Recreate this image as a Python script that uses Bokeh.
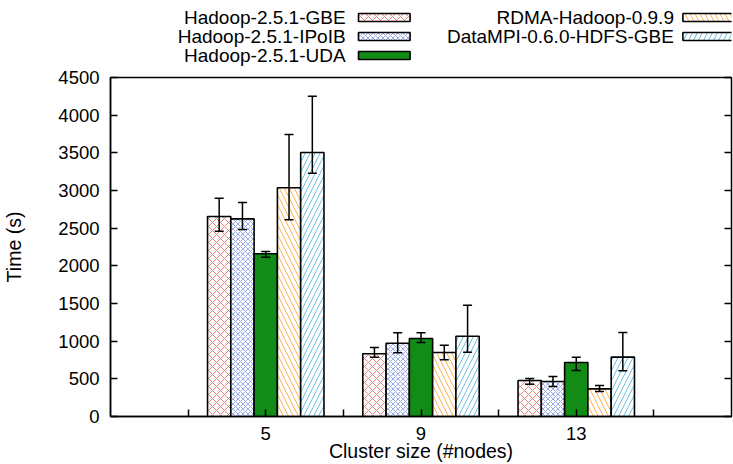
from bokeh.plotting import figure
from bokeh.layouts import column
from bokeh.models import (Whisker, ColumnDataSource, LinearAxis, FixedTicker, TeeHead, Range1d)
from bokeh.core.properties import value
from bokeh.embed import file_html
from bokeh.resources import INLINE

# ---------------- data ----------------
clusters = [5, 9, 13]
cluster_labels = ["5", "9", "13"]
series_names = ["Hadoop-2.5.1-GBE", "Hadoop-2.5.1-IPoIB", "Hadoop-2.5.1-UDA",
                "RDMA-Hadoop-0.9.9", "DataMPI-0.6.0-HDFS-GBE"]

gbe = [2655, 832, 478]
gbe_lo = [2460, 787, 429]
gbe_hi = [2898, 916, 504]

ipoib = [2624, 973, 465]
ipoib_lo = [2482, 845, 398]
ipoib_hi = [2841, 1111, 531]

uda = [2160, 1035, 717]
uda_lo = [2115, 982, 611]
uda_hi = [2190, 1111, 788]

rdma = [3036, 850, 367]
rdma_lo = [2611, 752, 332]
rdma_hi = [3743, 947, 412]

datampi = [3505, 1066, 788]
datampi_lo = [3230, 854, 606]
datampi_hi = [4252, 1478, 1115]

y_ticks = list(range(0, 4501, 500))

# ---------------- styles ----------------
FONT = "Liberation Sans"
styles = [
    dict(fill_color="white", hatch_pattern="diagonal_cross", hatch_color="#f27f72", hatch_scale=8, hatch_weight=1),
    dict(fill_color="white", hatch_pattern="diagonal_cross", hatch_color="#7f98ea", hatch_scale=5, hatch_weight=0.8),
    dict(fill_color="#128c16", hatch_pattern=" ", hatch_color="#128c16", hatch_scale=8, hatch_weight=1),
    dict(fill_color="white", hatch_pattern="left_diagonal_line", hatch_color="#ffb24f", hatch_scale=10, hatch_weight=1),
    dict(fill_color="white", hatch_pattern="right_diagonal_line", hatch_color="#6cc0e2", hatch_scale=10, hatch_weight=1),
]
values = [gbe, ipoib, uda, rdma, datampi]
lows = [gbe_lo, ipoib_lo, uda_lo, rdma_lo, datampi_lo]
highs = [gbe_hi, ipoib_hi, uda_hi, rdma_hi, datampi_hi]

W = 733
H = 464
LEG_H = 66
FRAME_L, FRAME_R = 105, 731
bar_w = 0.6
x_ticks = sorted(set(clusters + [c - 2 for c in clusters] + [c + 2 for c in clusters]))

# ---------------- legend strip (gnuplot style: text, then swatch) ----------------
# its frame lines up with the chart frame, so its x range is in page pixels
leg = figure(width=W, height=LEG_H, x_range=Range1d(FRAME_L, FRAME_R), y_range=Range1d(LEG_H, 0),
             output_backend="svg", toolbar_location=None, x_axis_type=None, y_axis_type=None,
             min_border_left=FRAME_L, min_border_right=W - FRAME_R, min_border_top=0, min_border_bottom=0)
leg.outline_line_color = None
leg.grid.visible = False
leg.background_fill_color = "white"
leg.border_fill_color = "white"

col_text_right = [342, 673]
col_swatch_left = [355, 682]
sw_w = 52
row_y = [17, 36, 55]
for i, name in enumerate(series_names):
    col = 0 if i < 3 else 1
    row = i if i < 3 else i - 3
    yc = row_y[row]
    leg.text(x=[col_text_right[col]], y=[yc], text=[name], text_align="right",
             text_baseline="middle", text_font=value(FONT), text_font_size="19px",
             text_color="black")
    leg.quad(left=[col_swatch_left[col]], right=[col_swatch_left[col] + sw_w],
             top=[yc - 4], bottom=[yc + 4], line_color="black", line_width=1.6, **styles[i])

# ---------------- main chart ----------------
p = figure(width=W, height=H - LEG_H, x_range=Range1d(clusters[0] - 4, clusters[-1] + 4),
           y_range=Range1d(0, 4500), output_backend="svg", toolbar_location=None,
           min_border_left=FRAME_L, min_border_right=W - FRAME_R, min_border_top=77 - LEG_H,
           min_border_bottom=48)
p.grid.visible = False
p.outline_line_color = "black"
p.outline_line_width = 1.5
p.background_fill_color = "white"
p.border_fill_color = "white"

xa = p.xaxis[0]
xa.ticker = FixedTicker(ticks=x_ticks)
xa.major_label_overrides = {t: (cluster_labels[clusters.index(t)] if t in clusters else "") for t in x_ticks}
xa.axis_label = "Cluster size (#nodes)"
ya = p.yaxis[0]
ya.ticker = FixedTicker(ticks=y_ticks)
ya.axis_label = "Time (s)"

for ax in (xa, ya):
    ax.major_tick_in = 7
    ax.major_tick_out = 0
    ax.minor_tick_line_color = None
    ax.axis_line_width = 1.5
    ax.major_tick_line_width = 1.5
    ax.major_label_text_font = FONT
    ax.major_label_text_font_size = "18.5px"
    ax.major_label_text_color = "black"
    ax.axis_label_text_font = FONT
    ax.axis_label_text_font_size = "19.5px"
    ax.axis_label_text_font_style = "normal"
    ax.axis_label_text_color = "black"
xa.major_label_standoff = 10
xa.axis_label_standoff = -3
ya.major_label_standoff = 11
ya.axis_label_standoff = 30

ra = LinearAxis(ticker=FixedTicker(ticks=y_ticks), major_label_text_font_size="0px",
                major_tick_in=7, major_tick_out=0, axis_line_color=None,
                minor_tick_line_color=None, major_label_standoff=0, major_tick_line_width=1.5)
ra.major_label_overrides = {t: "" for t in y_ticks}
p.add_layout(ra, "right")

for i, (vals, lo, hi, st) in enumerate(zip(values, lows, highs, styles)):
    xs = [c + (i - 2) * bar_w for c in clusters]
    src = ColumnDataSource(dict(x=xs, top=vals, lo=lo, hi=hi))
    p.vbar(x="x", top="top", bottom=0, width=bar_w, source=src, line_color="black",
           line_width=1.6, **st)
    w = Whisker(base="x", upper="hi", lower="lo", source=src, line_color="black", line_width=1.5,
                upper_head=TeeHead(size=9, line_width=1.5, line_color="black"),
                lower_head=TeeHead(size=9, line_width=1.5, line_color="black"),
                level="overlay")
    p.add_layout(w)

layout = column(leg, p, spacing=0)
open("out.html", "w").write(file_html(layout, INLINE))
